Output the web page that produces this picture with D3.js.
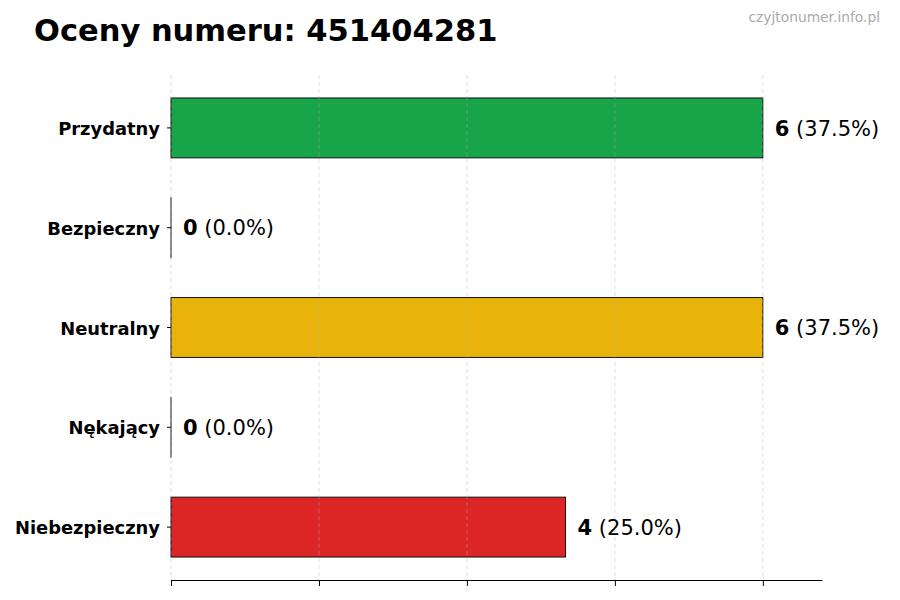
<!DOCTYPE html>
<html>
<head>
<meta charset="utf-8">
<script src="https://cdn.jsdelivr.net/npm/d3@7"></script>
<style>
  body { margin: 0; background: #fff; }
  svg { font-family: "DejaVu Sans", sans-serif; }
</style>
</head>
<body>
<svg id="chart" width="900" height="600"></svg>
<script>
// data
const categories = ["Przydatny", "Bezpieczny", "Neutralny", "Nękający", "Niebezpieczny"];
const counts = [6, 0, 6, 0, 4];
const percents = [37.5, 0.0, 37.5, 0.0, 25.0];
const barColors = ["#18a54a", "#2b7de0", "#e8b40b", "#f07c1a", "#dc2626"];
const xTicks = [0, 1.5, 3, 4.5, 6];

const svg = d3.select("#chart");

// title + watermark
svg.append("text")
  .attr("x", 34).attr("y", 41)
  .style("font-size", "30.5px").style("font-weight", "bold")
  .text("Oceny numeru: 451404281");

svg.append("text")
  .attr("x", 880).attr("y", 22)
  .attr("text-anchor", "end")
  .style("font-size", "13.8px").style("fill", "#aaaaaa")
  .text("czyjtonumer.info.pl");

let xScale = d3.scaleLinear()
  .domain([0, d3.max(counts) * 1.1])
  .range([171, 822]);

let yScale = d3.scaleBand()
  .domain(categories)
  .range([78, 577])
  .paddingInner(0.4)
  .paddingOuter(0.2);

let rows = categories.map((c, i) => ({ cat: c, n: counts[i], pct: percents[i], color: barColors[i] }));

// bars (zero bars keep a hairline so the stroke still shows)
svg.append("g").selectAll("rect")
  .data(rows)
  .join("rect")
  .attr("x", xScale(0))
  .attr("y", d => yScale(d.cat))
  .attr("width", d => Math.max(xScale(d.n) - xScale(0), 0.01))
  .attr("height", yScale.bandwidth())
  .attr("fill", d => d.color)
  .attr("stroke", "#111")
  .attr("stroke-width", 1);

// dashed grid (drawn over bars, faint)
svg.append("g").selectAll("line")
  .data(xTicks)
  .join("line")
  .attr("x1", d => xScale(d)).attr("x2", d => xScale(d))
  .attr("y1", 75).attr("y2", 580)
  .attr("stroke", "#b0b0b0")
  .attr("stroke-opacity", 0.5)
  .attr("stroke-dasharray", "4,3")
  .attr("stroke-width", 0.8);

// bottom axis, no labels
let xAxis = d3.axisBottom(xScale).tickValues(xTicks).tickSize(6).tickFormat("").tickSizeOuter(0);
let gx = svg.append("g").attr("transform", "translate(0,580)").call(xAxis);
gx.select(".domain").attr("stroke", "#000");
gx.selectAll(".tick line").attr("stroke", "#000");

// left axis: labels + small ticks, no spine
let yAxis = d3.axisLeft(yScale).tickSize(4).tickPadding(7);
let gy = svg.append("g").attr("transform", "translate(171,0)").call(yAxis);
gy.select(".domain").remove();
gy.selectAll(".tick text")
  .attr("dy", "0.4em")
  .style("font-size", "17.9px").style("font-weight", "bold")
  .style("font-family", "'DejaVu Sans', sans-serif")
  .attr("fill", "#000");

// value labels
let labels = svg.append("g").selectAll("text")
  .data(rows)
  .join("text")
  .attr("x", d => xScale(d.n) + 12)
  .attr("y", d => yScale(d.cat) + yScale.bandwidth() / 2)
  .attr("dy", "0.37em")
  .style("font-size", "21px");

labels.append("tspan").style("font-weight", "bold").text(d => d.n);
labels.append("tspan").text(d => ` (${d.pct.toFixed(1)}%)`);
</script>
</body>
</html>
